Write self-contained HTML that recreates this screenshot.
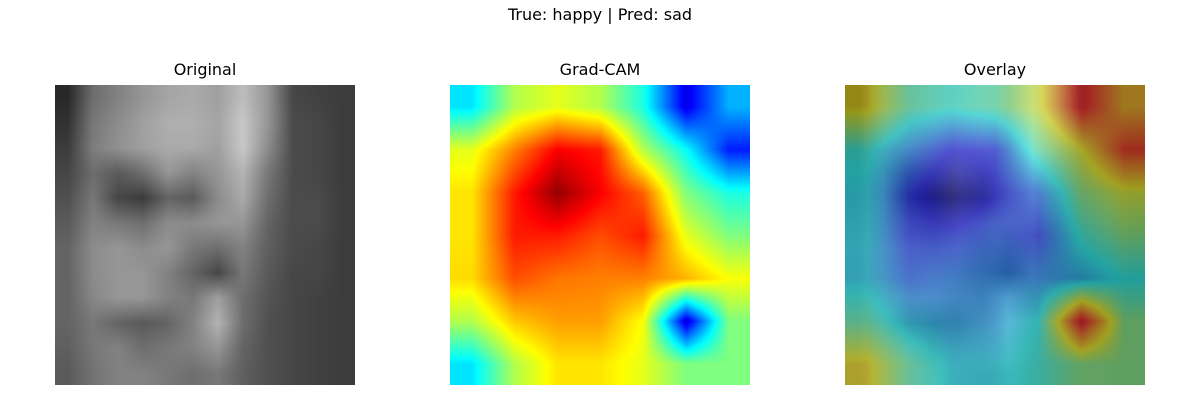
<!DOCTYPE html>
<html><head><meta charset="utf-8">
<style>
body{margin:0;background:#fff;width:1200px;height:400px;overflow:hidden;position:relative;font-family:"DejaVu Sans","Liberation Sans",sans-serif;}
.t{position:absolute;font-size:16px;color:#000;transform:translateX(-50%);white-space:nowrap;}
canvas{position:absolute;top:85px;width:300px;height:300px;}
</style></head>
<body>
<div class="t" style="left:600px;top:5px;">True: happy | Pred: sad</div>
<div class="t" style="left:205px;top:60px;">Original</div>
<div class="t" style="left:600px;top:60px;">Grad-CAM</div>
<div class="t" style="left:995px;top:60px;">Overlay</div>
<canvas id="c1" width="300" height="300" style="left:55px"></canvas>
<canvas id="c2" width="300" height="300" style="left:450px"></canvas>
<canvas id="c3" width="300" height="300" style="left:845px"></canvas>
<script>
const heat = [
[0.35,0.55,0.60,0.55,0.40,0.10,0.30],
[0.60,0.75,0.88,0.85,0.55,0.38,0.15],
[0.65,0.85,0.98,0.88,0.78,0.50,0.40],
[0.65,0.85,0.85,0.80,0.85,0.60,0.50],
[0.66,0.80,0.76,0.75,0.75,0.70,0.62],
[0.55,0.68,0.72,0.72,0.62,0.08,0.50],
[0.35,0.55,0.65,0.65,0.60,0.50,0.50]];
const face = [
[40,110,130,150,165,170,160,190,150,70,65,60],
[50,120,140,160,175,175,165,200,150,75,70,60],
[60,125,145,160,170,170,160,200,140,75,70,60],
[70,110,90,110,150,130,150,180,120,75,70,60],
[80,120,70,60,100,90,140,170,110,75,75,60],
[90,130,120,110,140,140,150,150,100,75,75,60],
[100,140,150,140,150,120,110,130,95,75,70,60],
[100,140,150,150,130,100,70,120,90,70,70,60],
[100,135,150,150,130,120,160,110,85,70,65,60],
[100,120,100,90,100,130,180,110,80,70,65,60],
[95,120,130,110,120,130,150,100,80,70,65,60],
[90,115,130,130,120,110,120,95,80,70,65,60]];
function sample(g,x,y){const n=g.length,m=g[0].length;
 let fx=x/300*m-0.5,fy=y/300*n-0.5;
 fx=Math.max(0,Math.min(m-1,fx));fy=Math.max(0,Math.min(n-1,fy));
 const x0=Math.floor(fx),y0=Math.floor(fy),x1=Math.min(m-1,x0+1),y1=Math.min(n-1,y0+1),ax=fx-x0,ay=fy-y0;
 return (g[y0][x0]*(1-ax)+g[y0][x1]*ax)*(1-ay)+(g[y1][x0]*(1-ax)+g[y1][x1]*ax)*ay;}
function cl(v){return Math.max(0,Math.min(1,v));}
function jet(v){return [cl(1.5-Math.abs(4*v-3)),cl(1.5-Math.abs(4*v-2)),cl(1.5-Math.abs(4*v-1))].map(a=>a*255);}
const ctx=[1,2,3].map(i=>document.getElementById('c'+i).getContext('2d'));
const im=ctx.map(c=>c.createImageData(300,300));
for(let y=0;y<300;y++)for(let x=0;x<300;x++){
 const k=(y*300+x)*4;
 const g=sample(face,x,y);
 const j=jet(sample(heat,x,y));
 im[0].data.set([g,g,g,255],k);
 im[1].data.set([j[0],j[1],j[2],255],k);
 im[2].data.set([0.5*g+0.5*j[2],0.5*g+0.5*j[1],0.5*g+0.5*j[0],255],k);
}
ctx.forEach((c,i)=>c.putImageData(im[i],0,0));
</script>
</body></html>
